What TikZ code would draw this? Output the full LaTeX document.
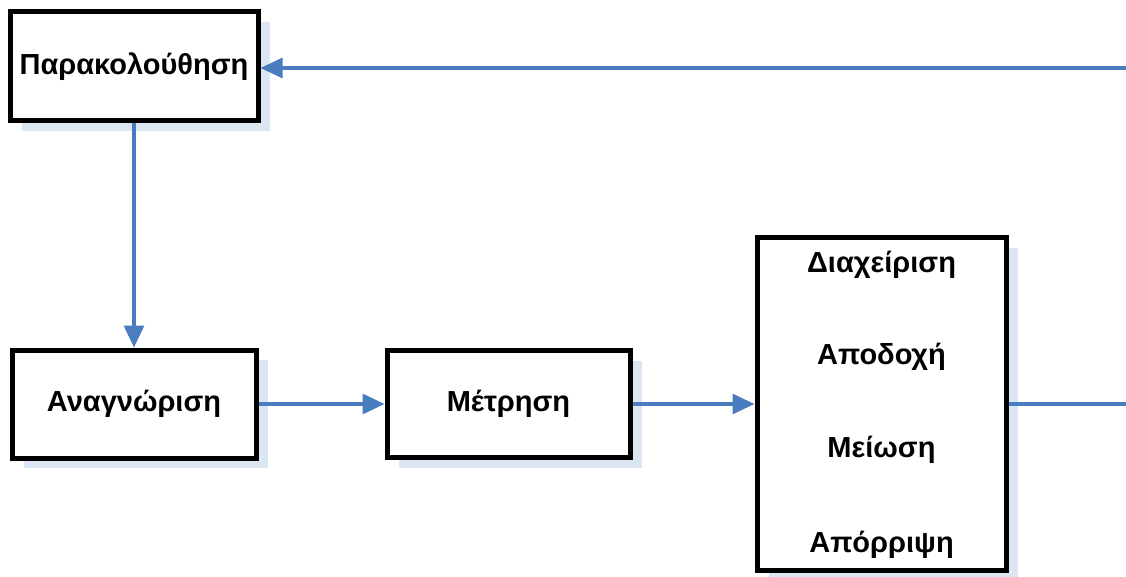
\documentclass[tikz,border=0pt]{standalone}
\usepackage{fontspec}
\setmainfont{Liberation Sans}
\usetikzlibrary{arrows.meta,shadows}
\definecolor{linkblue}{RGB}{74,124,192}
\definecolor{shadowblue}{RGB}{220,230,242}
\tikzset{
  stage/.style={draw=black, line width=5pt, fill=white,
    font=\fontsize{29}{34}\selectfont\bfseries,
    drop shadow={shadow xshift=12pt, shadow yshift=-10pt, fill=shadowblue, opacity=1}},
  link/.style={draw=linkblue, line width=3.2pt},
  flow/.style={link, -{Triangle[length=22pt,width=20pt]}},
  item/.style={font=\fontsize{29}{34}\selectfont\bfseries}
}
\begin{document}
\begin{tikzpicture}[x=1pt,y=-1pt]
  \useasboundingbox (0,0) rectangle (1126,577);
  \clip (0,0) rectangle (1126,577);

  \node[stage, minimum width=248pt, minimum height=109pt] (mon) at (134,66.5) {Παρακολούθηση};
  \node[stage, minimum width=244pt, minimum height=108pt] (rec) at (134,404) {Αναγνώριση};
  \node[stage, minimum width=243pt, minimum height=107pt] (meas) at (508.5,404) {Μέτρηση};
  \node[stage, minimum width=249pt, minimum height=332pt] (mgmt) at (881.5,404) {};

  \node[item] (m1) at (881.5,265) {Διαχείριση};
  \node[item] (m2) at (881.5,357) {Αποδοχή};
  \node[item] (m3) at (881.5,450) {Μείωση};
  \node[item] (m4) at (881.5,545) {Απόρριψη};

  \coordinate (outR) at (1126,404);
  \coordinate (inR) at (1126,68);

  \draw[flow] (mon.south) -- (rec.north);
  \draw[flow] (rec.east) -- (meas.west);
  \draw[flow] (meas.east) -- (mgmt.west);
  \draw[link] (mgmt.east) -- (outR);
  \draw[flow] (inR) -- (inR -| mon.east);
\end{tikzpicture}
\end{document}
